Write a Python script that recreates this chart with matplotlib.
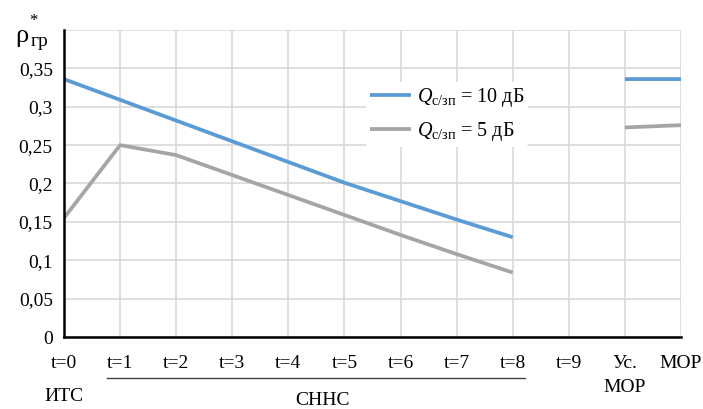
import matplotlib
matplotlib.use("Agg")
import matplotlib.pyplot as plt
import matplotlib.transforms as mtransforms
import numpy as np

plt.rcParams["font.family"] = ["Liberation Serif", "DejaVu Serif"]
plt.rcParams["mathtext.fontset"] = "custom"
plt.rcParams["mathtext.rm"] = "Liberation Serif"
plt.rcParams["mathtext.it"] = "Liberation Serif:italic"

# categories along the x axis
categories = ["t=0", "t=1", "t=2", "t=3", "t=4", "t=5", "t=6", "t=7", "t=8", "t=9", "Ус.\nМОР", "МОР"]
# rho_gr* for the two SNR values (t=9 has no value)
q10 = [0.336, 0.309, 0.282, 0.255, 0.228, 0.201, 0.177, 0.153, 0.130, np.nan, 0.336, 0.336]
q5 = [0.155, 0.250, 0.237, 0.211, 0.185, 0.159, 0.133, 0.108, 0.084, np.nan, 0.273, 0.276]
y_ticks = [0, 0.05, 0.1, 0.15, 0.2, 0.25, 0.3, 0.35]
y_labels = ["0", "0,05", "0,1", "0,15", "0,2", "0,25", "0,3", "0,35"]

fig = plt.figure(figsize=(7.03, 4.09), dpi=100)
ax = fig.add_axes([0.091, 0.176, 0.8777, 0.7507])

x = np.arange(len(categories))
ax.plot(x, q10, color="#5b9bd5", lw=2.7, solid_capstyle="butt",
        label=r"$Q_{\mathrm{с/зп}}$ = 10 дБ")
ax.plot(x, q5, color="#a5a5a5", lw=2.7, solid_capstyle="butt",
        label=r"$Q_{\mathrm{с/зп}}$ = 5 дБ")

ax.set_xlim(0, len(categories) - 1)
ax.set_ylim(0, 0.4)
ax.set_xticks(x)
ax.set_xticklabels(categories, fontsize=14, va="top", linespacing=1.55)
ax.set_yticks(y_ticks + [0.4])
ax.set_yticklabels(y_labels + [""], fontsize=14)
ax.tick_params(length=0, pad=13)
ax.tick_params(axis="y", pad=8)
ax.grid(True, color="#d9d9d9", lw=1.2)
ax.set_axisbelow(True)
for s in ["top", "right"]:
    ax.spines[s].set_visible(False)
ax.spines["left"].set_linewidth(1.8)
ax.spines["bottom"].set_linewidth(1.8)

leg = ax.legend(loc="upper left", bbox_to_anchor=(0.49, 0.83), frameon=True,
                fontsize=14.5, handlelength=2.0, handletextpad=0.3,
                borderpad=0.2, labelspacing=0.55, borderaxespad=0)
leg.get_frame().set_edgecolor("none")
leg.get_frame().set_facecolor("white")
leg.get_frame().set_alpha(1)

# y-axis label rho_gr with asterisk
fig.text(0.022, 0.898, "ρ", fontsize=19, ha="left", va="baseline")
fig.text(0.044, 0.888, "гр", fontsize=14, ha="left", va="baseline")
fig.text(0.042, 0.938, "*", fontsize=12, ha="left", va="baseline")

# group labels under the x axis
trans = mtransforms.blended_transform_factory(ax.transData, ax.transAxes)
ax.plot([0.77, 8.22], [-0.134, -0.134], color="#404040", lw=1.0,
        transform=trans, clip_on=False)
ax.text(0, -0.165, "ИТС", transform=trans, fontsize=14, ha="center", va="top")
ax.text(4.6, -0.178, "СННС", transform=trans, fontsize=14, ha="center", va="top")

fig.savefig("out.png", dpi=100)
